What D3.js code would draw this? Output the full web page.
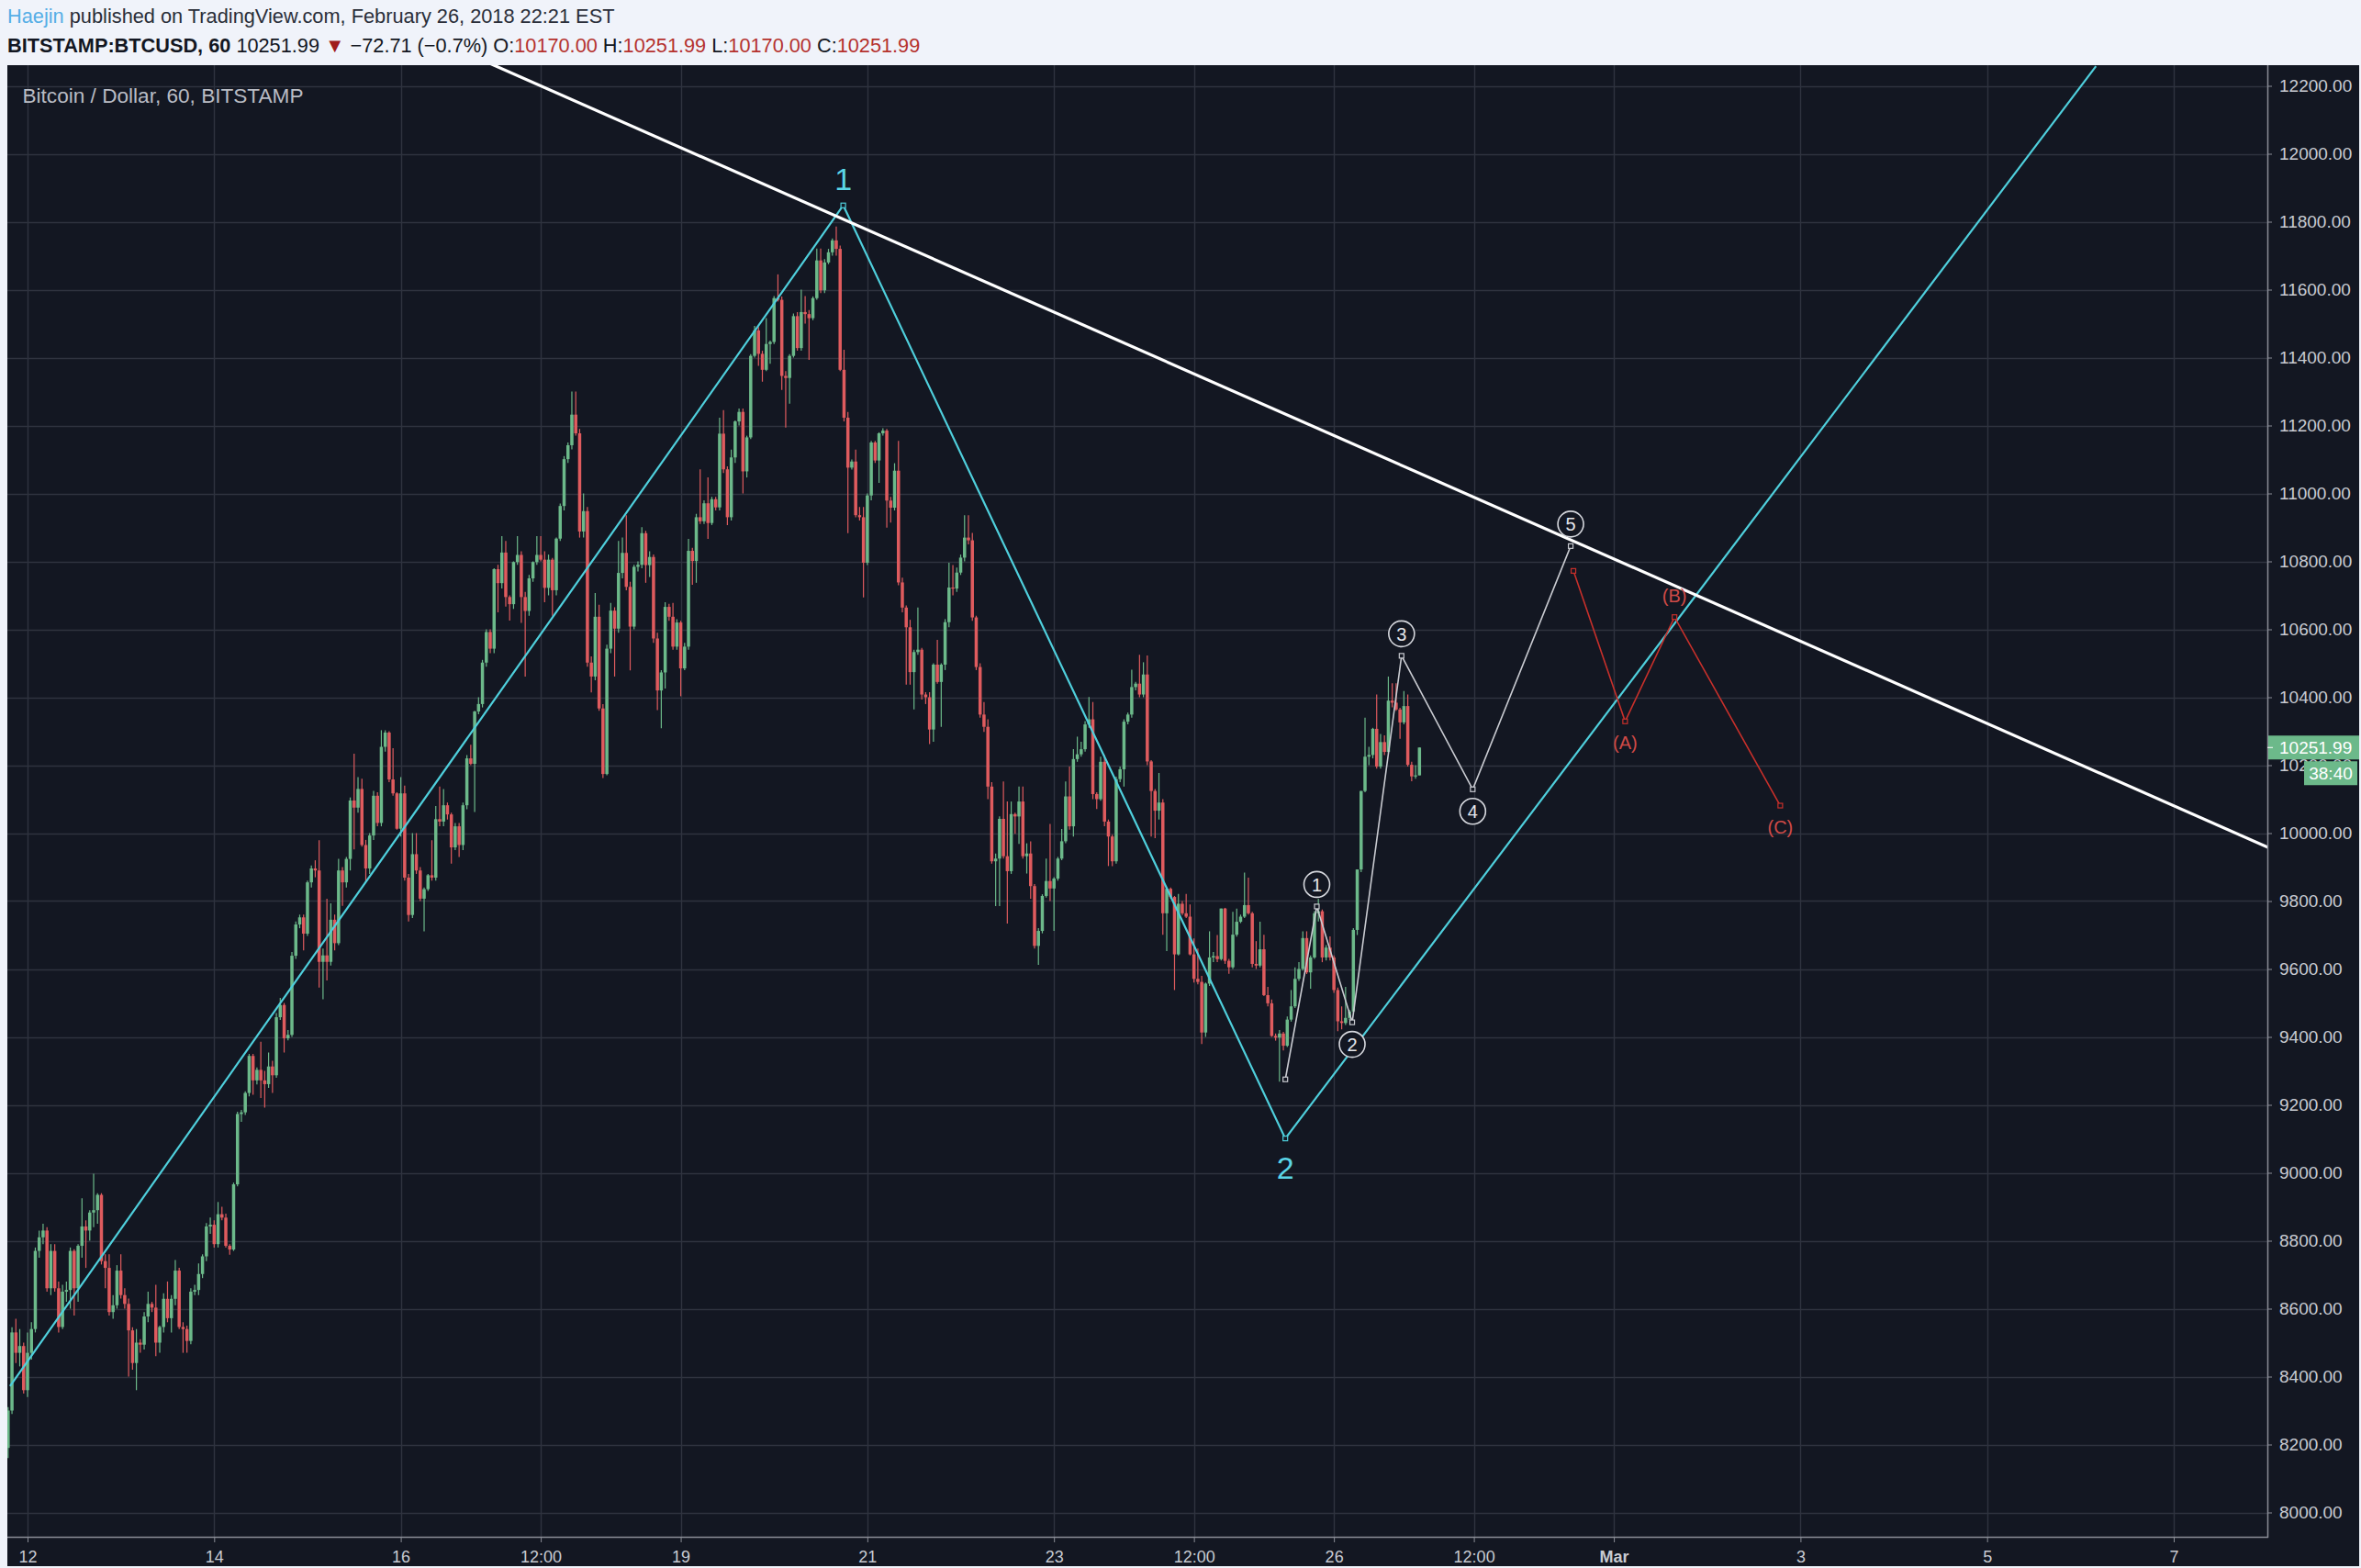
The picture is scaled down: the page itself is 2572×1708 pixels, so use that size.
<!DOCTYPE html>
<html><head><meta charset="utf-8">
<script src="https://cdn.jsdelivr.net/npm/d3@7"></script>
<style>
html,body{margin:0;padding:0;background:#f0f3fa;}
svg{display:block;}
</style></head><body>
<svg id="c" width="2572" height="1708"></svg>
<script>
// ---------- DATA ----------
const startHour = -5; // hours since Feb 12 00:00, first candle
const opens = [8190,8300,8530,8470,8490,
8360,8470,8540,8770,8810,8830,8660,8770,8660,8546,8650,8655,8770,8660,8785,8842,8830,8883,8890,8935,8740,8720,8590,8610,
8712,8640,8614,8536,8440,8500,8494,8577,8614,8603,8500,8546,8629,8572,8629,8712,8546,8540,8505,8650,8655,8702,8754,8842,
8847,8790,8878,8868,8785,8774,8966,9173,9178,9235,9344,9272,9303,9272,9261,9313,9287,9458,9494,9396,9406,9639,9731,9752,
9704,9855,9896,9890,9621,9640,9621,9745,9676,9890,9855,9924,10096,10075,10130,9965,9896,9993,10110,10030,10254,10296,10158,10117,
10013,10117,9869,9759,9938,9890,9807,9835,9876,9869,10041,10034,10082,10055,9958,10020,9965,10082,10220,10204,10358,10380,10502,10592,
10543,10777,10736,10826,10695,10674,10798,10819,10695,10654,10750,10798,10819,10805,10722,10805,10715,10867,10963,11101,11142,11232,11177,10888,
10948,10502,10461,10637,10367,10174,10543,10655,10602,10766,10825,10725,10608,10784,10790,10883,10789,10813,10573,10420,10473,10666,10637,10549,
10620,10485,10549,10831,10801,10930,10918,10971,10913,10983,10959,11176,11071,10930,11106,11212,11240,11065,11165,11405,11480,11411,11364,11440,
11446,11575,11570,11346,11340,11405,11522,11428,11534,11528,11516,11575,11686,11598,11680,11710,11745,11720,11364,11223,11076,11094,10936,10930,
10796,10994,11150,11097,11177,11185,10979,10958,11067,10738,10664,10606,10474,10533,10540,10408,10400,10305,10496,10445,10496,10621,10723,10720,
10767,10811,10870,10862,10635,10489,10349,10313,10137,9917,9925,10042,9932,9888,10056,10049,10093,9932,9940,9844,9668,9712,9815,9859,
9837,9866,9925,9976,10108,10020,10218,10232,10247,10320,10335,10115,10100,10210,10034,9990,9917,10159,10188,10328,10349,10430,10440,10408,
10467,10211,10124,10066,10090,9764,9836,9812,9643,9792,9764,9754,9643,9571,9562,9413,9557,9634,9638,9629,9778,9624,9605,9701,
9739,9754,9788,9764,9615,9610,9658,9523,9499,9403,9398,9410,9374,9451,9490,9571,9600,9691,9590,9634,9764,9770,9634,9663,
9634,9538,9446,9441,9456,9475,9715,9893,10124,10225,10230,10307,10196,10268,10239,10390,10384,10364,10326,10374,10201,10167,10170];
const highs = [8310,8545,8570,8540,8500,
8530,8560,8780,8830,8850,8840,8790,8790,8680,8670,8680,8780,8775,8790,8925,8860,8890,8997,8940,8940,8760,8760,8640,8728,
8760,8660,8630,8545,8540,8510,8590,8650,8620,8670,8550,8645,8680,8640,8743,8720,8560,8550,8660,8670,8733,8760,8852,8868,
8860,8914,8900,8880,8790,8971,9180,9185,9240,9350,9350,9310,9386,9300,9354,9330,9470,9515,9500,9420,9650,9740,9760,9760,
9860,9905,9920,9979,9660,9807,9793,9760,9924,9900,9930,10105,10234,10165,10160,9980,10000,10124,10120,10303,10303,10300,10250,10120,
10165,10140,9880,10000,10000,9900,9840,9880,9979,10080,10137,10130,10090,10060,10030,10030,10090,10230,10260,10360,10400,10510,10600,10600,
10780,10790,10874,10860,10700,10800,10874,10830,10710,10760,10800,10874,10874,10830,10820,10810,10870,10970,11110,11150,11300,11300,11190,11000,
10960,10520,10707,10672,10380,10555,10678,10665,10860,10870,10936,10740,10790,10800,10901,10890,10830,10820,10590,10480,10680,10675,10678,10630,
10625,10560,10866,10840,10940,11071,10980,11047,10990,10990,11223,11245,11080,11129,11215,11250,11250,11170,11410,11493,11490,11420,11516,11450,
11581,11645,11580,11360,11410,11530,11534,11600,11581,11540,11580,11721,11721,11690,11720,11751,11786,11730,11423,11240,11100,11129,10960,10960,
11000,11155,11155,11180,11192,11190,10990,11089,11155,10752,10670,10628,10540,10664,10545,10415,10415,10500,10569,10500,10630,10796,10789,10782,
10820,10936,10936,10884,10640,10500,10386,10335,10150,9940,10049,10152,10093,10093,10060,10137,10137,9970,9976,9850,9720,9820,9925,10027,
9870,9930,10012,10152,10196,10247,10284,10269,10330,10401,10386,10120,10225,10230,10040,9995,10166,10196,10335,10355,10481,10445,10525,10503,
10523,10215,10130,10177,10100,9840,9840,9815,9821,9800,9821,9790,9690,9660,9580,9560,9711,9650,9700,9778,9780,9630,9768,9778,
9760,9884,9869,9768,9682,9739,9701,9547,9510,9410,9420,9415,9460,9538,9605,9620,9711,9711,9640,9770,9807,9775,9670,9696,
9640,9545,9490,9547,9480,9720,9893,10124,10340,10254,10310,10408,10292,10288,10461,10441,10441,10369,10418,10408,10210,10200,10251.99];
const lows = [8160,8290,8440,8430,8350,
8340,8450,8530,8750,8790,8650,8640,8650,8530,8540,8620,8600,8580,8620,8750,8720,8800,8840,8850,8730,8660,8580,8570,8600,
8630,8600,8400,8420,8360,8470,8480,8560,8590,8460,8470,8530,8560,8530,8610,8540,8470,8470,8495,8640,8640,8690,8740,8820,
8780,8780,8860,8780,8759,8770,8960,9150,9170,9225,9230,9260,9220,9192,9250,9235,9280,9450,9354,9390,9400,9630,9720,9655,
9697,9840,9870,9545,9511,9566,9610,9655,9670,9786,9840,9890,9952,10060,9960,9855,9880,9980,10020,10020,10240,10150,10110,10010,
9990,9860,9740,9750,9880,9800,9711,9830,9860,9860,10020,10020,10040,9910,9950,9930,9950,10070,10200,10062,10350,10370,10490,10530,
10530,10650,10720,10667,10626,10660,10790,10619,10461,10640,10740,10790,10800,10680,10700,10640,10700,10860,10950,11090,11130,11170,10870,10870,
10490,10414,10450,10360,10162,10170,10530,10461,10590,10750,10715,10479,10600,10770,10780,10737,10754,10560,10362,10309,10426,10625,10540,10540,
10403,10480,10540,10731,10737,10910,10910,10866,10907,10950,10950,11060,10907,10920,11090,11200,11000,11047,11160,11400,11376,11329,11360,11382,
11440,11565,11305,11194,11264,11400,11420,11420,11500,11393,11510,11570,11590,11590,11675,11700,11700,11360,11212,10883,11070,10930,10920,10694,
10789,10980,11090,11031,11170,10899,10914,10950,10730,10650,10437,10437,10364,10525,10393,10380,10262,10269,10440,10313,10480,10606,10700,10710,
10760,10800,10850,10625,10480,10340,10298,10100,9910,9785,9785,9925,9734,9880,9998,9968,9925,9881,9807,9660,9612,9705,9810,9800,
9712,9860,9920,9970,10010,9990,10210,10225,10240,10310,10100,10071,10095,10020,9903,9903,9910,10150,10137,10320,10340,10420,10400,10400,
10200,9990,9985,10040,9701,9653,9807,9538,9640,9759,9750,9640,9560,9555,9379,9400,9550,9620,9620,9625,9615,9586,9600,9695,
9735,9750,9760,9605,9600,9605,9520,9490,9400,9389,9268,9360,9370,9445,9485,9565,9595,9585,9542,9630,9740,9620,9625,9625,
9530,9417,9422,9435,9450,9470,9700,9885,10120,10200,10220,10190,10190,10230,10235,10370,10360,10278,10320,10196,10153,10160,10170];
const closes = [8300,8530,8470,8490,8360,
8470,8540,8770,8810,8830,8660,8770,8660,8546,8650,8655,8770,8660,8785,8842,8830,8883,8890,8935,8740,8720,8590,8610,8712,
8640,8614,8536,8440,8500,8494,8577,8614,8603,8500,8546,8629,8572,8629,8712,8546,8540,8505,8650,8655,8702,8754,8842,8847,
8790,8878,8868,8785,8774,8966,9173,9178,9235,9344,9272,9303,9272,9261,9313,9287,9458,9494,9396,9406,9639,9731,9752,9704,
9855,9896,9890,9621,9640,9621,9745,9676,9890,9855,9924,10096,10075,10130,9965,9896,9993,10110,10030,10254,10296,10158,10117,10013,
10117,9869,9759,9938,9890,9807,9835,9876,9869,10041,10034,10082,10055,9958,10020,9965,10082,10220,10204,10358,10380,10502,10592,10543,
10777,10736,10826,10695,10674,10798,10819,10695,10654,10750,10798,10819,10805,10722,10805,10715,10867,10963,11101,11142,11232,11177,10888,10948,
10502,10461,10637,10367,10174,10543,10655,10602,10766,10825,10725,10608,10784,10790,10883,10789,10813,10573,10420,10473,10666,10637,10549,10620,
10485,10549,10831,10801,10930,10918,10971,10913,10983,10959,11176,11071,10930,11106,11212,11240,11065,11165,11405,11480,11411,11364,11440,11446,
11575,11570,11346,11340,11405,11522,11428,11534,11528,11516,11575,11686,11598,11680,11710,11745,11720,11364,11223,11076,11094,10936,10930,10796,
10994,11150,11097,11177,11185,10979,10958,11067,10738,10664,10606,10474,10533,10540,10408,10400,10305,10496,10445,10496,10621,10723,10720,10767,
10811,10870,10862,10635,10489,10349,10313,10137,9917,9925,10042,9932,9888,10056,10049,10093,9932,9940,9844,9668,9712,9815,9859,9837,
9866,9925,9976,10108,10020,10218,10232,10247,10320,10335,10115,10100,10210,10034,9990,9917,10159,10188,10328,10349,10430,10440,10408,10467,
10211,10124,10066,10090,9764,9836,9812,9643,9792,9764,9754,9643,9571,9562,9413,9557,9634,9638,9629,9778,9624,9605,9701,9739,
9754,9788,9764,9615,9610,9658,9523,9499,9403,9398,9410,9374,9451,9490,9571,9600,9691,9590,9634,9764,9770,9634,9663,9634,
9538,9446,9441,9456,9475,9715,9893,10124,10225,10230,10307,10196,10268,10239,10390,10384,10364,10326,10374,10201,10167,10170,10251.99];

const priceTicks = [8000,8200,8400,8600,8800,9000,9200,9400,9600,9800,10000,10200,10400,10600,10800,11000,11200,11400,11600,11800,12000,12200];
const timeTickHours = [0,48,96,132,168,216,264,300,336,372,408,456,504,552];
const timeTickLabels = ["12","14","16","12:00","19","21","23","12:00","26","12:00","Mar","3","5","7"];

// drawings: [hour, price]
const cyanWave = [[-4.5,8372],[209.8,11848],[323.5,9101],[532,12258]];
const cyanLabels = ["","1","2",""];
const whiteTrend = [[122.07,12250],[575.7,9961]];
const subWave = [[323.5,9275],[331.6,9784],[340.7,9443],[353.4,10522],[371.7,10129],[396.9,10845]];
const subLabels = ["","1","2","3","4","5"];
const abcWave = [[397.6,10772],[410.9,10329],[423.6,10636],[450.8,10081]];
const abcLabels = ["","(A)","(B)","(C)"];

const lastPrice = 10251.99;
const countdown = "38:40";

// ---------- SETUP ----------
const FONT = "'Liberation Sans', Arial, sans-serif";
const svg = d3.select("#c");
const P = {left: 8, right: 2470, top: 71, bottom: 1674};
const x = d3.scaleLinear().domain([0, 552]).range([30, 2368]);
const y = d3.scaleLinear().domain([8000, 12200]).range([1647.5, 93.5]);
const UP = "#6cb98a", DOWN = "#df5b5e";

svg.append("rect").attr("width", 2572).attr("height", 1708).attr("fill", "#f0f3fa");
svg.append("rect").attr("x", P.left).attr("y", P.top).attr("width", 2570 - P.left).attr("height", 1706 - P.top).attr("fill", "#131722");

// header
function fitText(sel, target) {
  const n = sel.node();
  const fs = parseFloat(sel.attr("font-size"));
  const len = n.getComputedTextLength();
  if (len > 0) sel.attr("font-size", (fs * target / len).toFixed(2));
}
const h1 = svg.append("text").attr("x", 8).attr("y", 25).attr("font-family", FONT).attr("font-size", 21).attr("fill", "#2a2e39");
h1.append("tspan").attr("fill", "#55aee6").text("Haejin");
h1.append("tspan").text(" published on TradingView.com, February 26, 2018 22:21 EST");
fitText(h1, 662);

const h2 = svg.append("text").attr("x", 8).attr("y", 57).attr("font-family", FONT).attr("font-size", 21).attr("fill", "#131722");
const RED = "#b5322e";
[["BITSTAMP:BTCUSD, 60 ", null, 600], ["10251.99 ", null], ["\u25BC", "#a01c1c"], [" \u221272.71 (\u22120.7%) O:", null],
 ["10170.00", RED], [" H:", null], ["10251.99", RED], [" L:", null], ["10170.00", RED], [" C:", null], ["10251.99", RED]]
 .forEach(([t, c, w]) => { const s = h2.append("tspan").text(t); if (c) s.attr("fill", c); if (w) s.attr("font-weight", w); });
fitText(h2, 995);

// grid
const grid = svg.append("g").attr("stroke", "#2f333f").attr("stroke-width", 1.4);
grid.selectAll("line.h").data(priceTicks).join("line")
  .attr("x1", P.left).attr("x2", P.right).attr("y1", d => Math.round(y(d)) + 0.5).attr("y2", d => Math.round(y(d)) + 0.5);
grid.selectAll("line.v").data(timeTickHours).join("line")
  .attr("y1", P.top).attr("y2", P.bottom).attr("x1", d => Math.round(x(d)) + 0.5).attr("x2", d => Math.round(x(d)) + 0.5);

// title
const title = svg.append("text").attr("x", 24.5).attr("y", 112).attr("font-family", FONT).attr("font-size", 20)
  .attr("fill", "#b9bcc4").text("Bitcoin / Dollar, 60, BITSTAMP");
fitText(title, 306);

// clip
svg.append("clipPath").attr("id", "plotclip").append("rect")
  .attr("x", P.left).attr("y", P.top).attr("width", P.right - P.left).attr("height", P.bottom - P.top);
const plot = svg.append("g").attr("clip-path", "url(#plotclip)");

// candles
const candles = opens.map((o, i) => ({h: startHour + i, o, hi: highs[i], lo: lows[i], c: closes[i]}));
const cg = plot.append("g");
cg.selectAll("line").data(candles).join("line")
  .attr("x1", d => x(d.h)).attr("x2", d => x(d.h))
  .attr("y1", d => y(d.hi)).attr("y2", d => y(d.lo))
  .attr("stroke", d => d.c >= d.o ? UP : DOWN).attr("stroke-width", 1.2);
cg.selectAll("rect").data(candles).join("rect")
  .attr("x", d => x(d.h) - 1.75).attr("width", 3.5)
  .attr("y", d => y(Math.max(d.o, d.c)))
  .attr("height", d => Math.max(1.2, Math.abs(y(d.o) - y(d.c))))
  .attr("fill", d => d.c >= d.o ? UP : DOWN);

// drawings
const line = d3.line().x(d => x(d[0])).y(d => y(d[1]));
function squares(pts, color, skipEnds) {
  plot.append("g").selectAll("rect").data(pts.filter((p, i) => !skipEnds || (i > 0 && i < pts.length - 1))).join("rect")
    .attr("x", d => x(d[0]) - 2.5).attr("y", d => y(d[1]) - 2.5).attr("width", 5).attr("height", 5)
    .attr("fill", "#131722").attr("stroke", color).attr("stroke-width", 1.2);
}
plot.append("path").attr("d", line(cyanWave)).attr("fill", "none").attr("stroke", "#4fcfdc").attr("stroke-width", 2.2);
squares(cyanWave, "#4fcfdc", true);
const wt = whiteTrend;
const slope = (wt[1][1] - wt[0][1]) / (wt[1][0] - wt[0][0]);
const ext = [[wt[0][0] - 40, wt[0][1] - 40 * slope], [wt[1][0] + 10, wt[1][1] + 10 * slope]];
plot.append("path").attr("d", line(ext)).attr("fill", "none").attr("stroke", "#ffffff").attr("stroke-width", 3.2);
plot.append("path").attr("d", line(subWave)).attr("fill", "none").attr("stroke", "#c9cbd1").attr("stroke-width", 1.6);
squares(subWave, "#c9cbd1", false);
plot.append("path").attr("d", line(abcWave)).attr("fill", "none").attr("stroke", "#c8302b").attr("stroke-width", 1.6);
squares(abcWave, "#c8302b", false);

// labels
const lab = svg.append("g").attr("font-family", FONT).attr("text-anchor", "middle");
const cyanSide = [0, -1, 1, 0], cyanOff = [0, 29, 32, 0];
cyanWave.forEach((p, i) => {
  if (!cyanLabels[i]) return;
  lab.append("text").attr("x", x(p[0])).attr("y", y(p[1]) + cyanSide[i] * cyanOff[i]).attr("dy", "0.36em")
    .attr("font-size", 34).attr("fill", "#5ad5e6").text(cyanLabels[i]);
});
const subSide = [0, -1, 1, -1, 1, -1];
subWave.forEach((p, i) => {
  if (!subLabels[i]) return;
  const cx = x(p[0]), cy = y(p[1]) + subSide[i] * 24;
  lab.append("circle").attr("cx", cx).attr("cy", cy).attr("r", 14).attr("fill", "#131722")
    .attr("stroke", "#d6d8de").attr("stroke-width", 1.6);
  lab.append("text").attr("x", cx).attr("y", cy).attr("dy", "0.36em").attr("font-size", 20)
    .attr("fill", "#e4e6eb").text(subLabels[i]);
});
const abcSide = [0, 1, -1, 1];
abcWave.forEach((p, i) => {
  if (!abcLabels[i]) return;
  lab.append("text").attr("x", x(p[0])).attr("y", y(p[1]) + abcSide[i] * 23).attr("dy", "0.36em")
    .attr("font-size", 20).attr("fill", "#cf4a47").text(abcLabels[i]);
});

// axes
const axisColor = "#8a8d96", textColor = "#c8cbd2";
const yAxis = d3.axisRight(y).tickValues(priceTicks).tickFormat(d => d.toFixed(2)).tickSize(5).tickSizeOuter(0).tickPadding(8);
const ya = svg.append("g").attr("transform", `translate(${P.right},0)`).call(yAxis);
ya.select(".domain").remove();
ya.selectAll(".tick line").attr("stroke", axisColor);
ya.selectAll(".tick text").attr("font-family", FONT).attr("font-size", 19).attr("fill", textColor);

const xAxis = d3.axisBottom(x).tickValues(timeTickHours).tickFormat((d, i) => timeTickLabels[i]).tickSize(6).tickSizeOuter(0).tickPadding(9);
const xa = svg.append("g").attr("transform", `translate(0,${P.bottom})`).call(xAxis);
xa.select(".domain").remove();
xa.selectAll(".tick line").attr("stroke", axisColor);
xa.selectAll(".tick text").attr("font-family", FONT).attr("font-size", 18).attr("fill", textColor)
  .attr("font-weight", (d, i) => timeTickLabels[i] === "Mar" ? 700 : 400);

svg.append("line").attr("x1", P.right + 0.5).attr("x2", P.right + 0.5).attr("y1", P.top).attr("y2", P.bottom + 1)
  .attr("stroke", axisColor).attr("stroke-width", 1.5);
svg.append("line").attr("x1", P.left).attr("x2", P.right + 1).attr("y1", P.bottom + 0.5).attr("y2", P.bottom + 0.5)
  .attr("stroke", axisColor).attr("stroke-width", 1.5);

// last price label + countdown (drawn over the 10200 tick label, as in the original)
const ly = y(lastPrice);
svg.append("rect").attr("x", P.right + 1).attr("y", ly - 13).attr("width", 2570 - P.right - 1).attr("height", 26).attr("fill", UP);
svg.append("line").attr("x1", P.right).attr("x2", P.right + 6).attr("y1", ly).attr("y2", ly).attr("stroke", "#ffffff");
svg.append("text").attr("x", P.right + 13).attr("y", ly).attr("dy", "0.35em").attr("font-family", FONT).attr("font-size", 19)
  .attr("fill", "#ffffff").text(lastPrice.toFixed(2));
svg.append("rect").attr("x", 2510).attr("y", ly + 15).attr("width", 58).attr("height", 26).attr("fill", UP);
svg.append("text").attr("x", 2539).attr("y", ly + 28).attr("dy", "0.35em").attr("text-anchor", "middle").attr("font-family", FONT)
  .attr("font-size", 19).attr("fill", "#ffffff").text(countdown);
</script>
</body></html>
